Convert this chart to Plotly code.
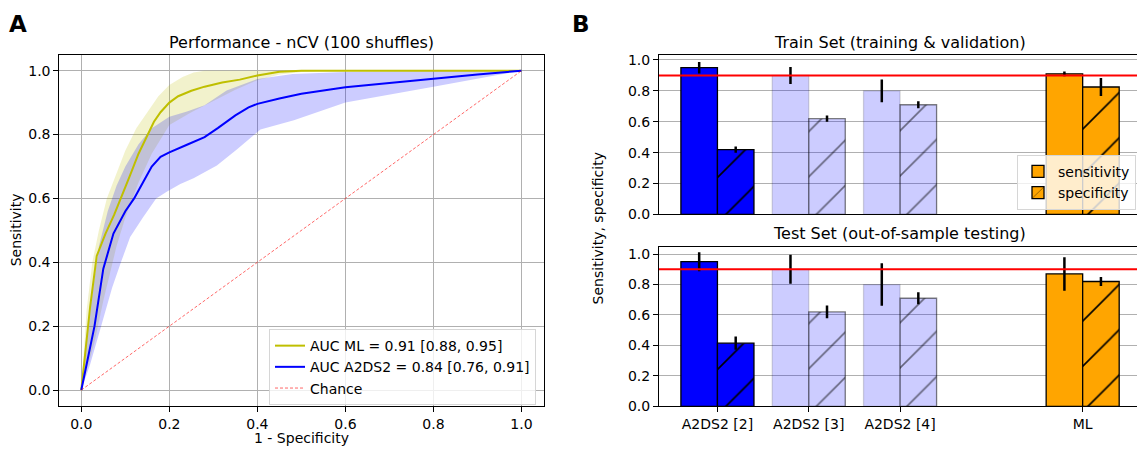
import plotly.graph_objects as go

# ---------------- Panel A data (ROC curves) ----------------
ml_x = [0, 0.01, 0.02, 0.035, 0.055, 0.075, 0.09, 0.11, 0.13, 0.15, 0.165, 0.18, 0.2, 0.22,
        0.25, 0.28, 0.32, 0.36, 0.4, 0.45, 0.5, 1.0]
ml_y = [0, 0.14, 0.26, 0.42, 0.49, 0.55, 0.6, 0.67, 0.74, 0.8, 0.84, 0.87, 0.9, 0.92,
        0.937, 0.95, 0.963, 0.972, 0.985, 0.997, 1.0, 1.0]
ml_up_x = [0, 0.005, 0.012, 0.025, 0.04, 0.058, 0.08, 0.1, 0.125, 0.15, 0.175, 0.2, 0.23, 0.255, 0.28, 1.0]
ml_up_y = [0, 0.12, 0.25, 0.4, 0.5, 0.6, 0.68, 0.75, 0.82, 0.87, 0.92, 0.955, 0.98, 0.994, 1.0, 1.0]
ml_lo_x = [0, 0.03, 0.05, 0.08, 0.1, 0.13, 0.16, 0.2, 0.25, 0.3, 0.35, 0.4, 0.45, 0.5, 0.55, 1.0]
ml_lo_y = [0, 0.15, 0.28, 0.45, 0.54, 0.65, 0.74, 0.83, 0.87, 0.905, 0.94, 0.97, 0.988, 0.996, 1.0, 1.0]

a2_x = [0, 0.015, 0.03, 0.05, 0.073, 0.1, 0.12, 0.14, 0.16, 0.18, 0.2, 0.24, 0.28, 0.31,
        0.35, 0.38, 0.4, 0.45, 0.5, 0.6, 0.7, 0.8, 0.9, 1.0]
a2_y = [0, 0.1, 0.2, 0.38, 0.49, 0.56, 0.6, 0.65, 0.7, 0.73, 0.744, 0.768, 0.792, 0.82,
        0.86, 0.885, 0.896, 0.913, 0.928, 0.948, 0.962, 0.975, 0.988, 1.0]
a2_up_x = [0, 0.01, 0.025, 0.04, 0.06, 0.08, 0.1, 0.13, 0.16, 0.2, 0.24, 0.28, 0.33, 0.4, 0.48, 0.6, 0.8, 1.0]
a2_up_y = [0, 0.15, 0.3, 0.45, 0.56, 0.64, 0.7, 0.77, 0.82, 0.856, 0.872, 0.892, 0.938, 0.974, 0.99, 0.996, 0.999, 1.0]
a2_lo_x = [0, 0.02, 0.045, 0.07, 0.09, 0.111, 0.14, 0.17, 0.195, 0.225, 0.255, 0.308, 0.354, 0.407, 0.483, 0.6, 0.8, 1.0]
a2_lo_y = [0, 0.08, 0.2, 0.32, 0.4, 0.479, 0.54, 0.6, 0.622, 0.645, 0.663, 0.703, 0.754, 0.816, 0.845, 0.9, 0.95, 1.0]

chance_x = [0, 1]
chance_y = [0, 1]

label_ml = "AUC ML = 0.91 [0.88, 0.95]"
label_a2 = "AUC A2DS2 = 0.84 [0.76, 0.91]"
label_chance = "Chance"

# ---------------- Panel B data (bars) ----------------
groups = ["A2DS2 [2]", "A2DS2 [3]", "A2DS2 [4]", "ML"]
gap_label = " "

train_sens = [0.95, 0.90, 0.80, 0.91]
train_sens_err = [0.037, 0.055, 0.073, 0.015]
train_spec = [0.42, 0.62, 0.71, 0.825]
train_spec_err = [0.02, 0.02, 0.022, 0.058]

test_sens = [0.95, 0.90, 0.80, 0.87]
test_sens_err = [0.062, 0.095, 0.14, 0.11]
test_spec = [0.415, 0.62, 0.71, 0.82]
test_spec_err = [0.043, 0.042, 0.04, 0.03]

threshold = 0.9

# ---------------- styles ----------------
W, H = 1137, 455
FONT = "DejaVu Sans"
YEL = "#bfbf00"
BLUE = "#0000ff"
ORANGE = "#ffa500"
LIGHT = "rgba(0,0,255,0.2)"
GRID = "#b0b0b0"

# per-group styles: face, sens edge, spec edge / hatch
group_face = [BLUE, LIGHT, LIGHT, ORANGE]
group_sens_edge = ["black", "rgba(0,0,0,0.15)", "rgba(0,0,0,0.15)", "black"]
group_spec_edge = ["black", "rgba(0,0,0,0.5)", "rgba(0,0,0,0.5)", "black"]


def px(x):
    return x / W


def py(y):
    return 1 - y / H


fig = go.Figure()

# Panel A bands
fig.add_trace(go.Scatter(x=ml_up_x + ml_lo_x[::-1], y=ml_up_y + ml_lo_y[::-1], fill="toself",
                         fillcolor="rgba(191,191,0,0.2)", line=dict(width=0), mode="lines",
                         showlegend=False, hoverinfo="skip", xaxis="x", yaxis="y"))
fig.add_trace(go.Scatter(x=a2_up_x + a2_lo_x[::-1], y=a2_up_y + a2_lo_y[::-1], fill="toself",
                         fillcolor="rgba(0,0,255,0.2)", line=dict(width=0), mode="lines",
                         showlegend=False, hoverinfo="skip", xaxis="x", yaxis="y"))
fig.add_trace(go.Scatter(x=ml_x, y=ml_y, mode="lines", line=dict(color=YEL, width=2),
                         name=label_ml, xaxis="x", yaxis="y", legend="legend"))
fig.add_trace(go.Scatter(x=a2_x, y=a2_y, mode="lines", line=dict(color=BLUE, width=2),
                         name=label_a2, xaxis="x", yaxis="y", legend="legend"))
fig.add_trace(go.Scatter(x=chance_x, y=chance_y, mode="lines",
                         line=dict(color="rgba(255,0,0,0.75)", width=0.8, dash="3px,2px"),
                         name=label_chance, xaxis="x", yaxis="y", legend="legend"))


def err(v):
    return dict(type="data", array=[v], visible=True, color="black", thickness=2.5, width=0)


PAT_SIZE = 32
PAT_SOL = 0.05


def add_bars(xa, ya, sens, sens_err, spec, spec_err, legend_on):
    for i, g in enumerate(groups):
        is_ml = g == "ML"
        fig.add_trace(go.Bar(x=[g], y=[sens[i]], error_y=err(sens_err[i]), offsetgroup="sens",
                             marker=dict(color=group_face[i],
                                         line=dict(color=group_sens_edge[i], width=1.3)),
                             name="sensitivity", showlegend=legend_on and is_ml,
                             legend="legend2", xaxis=xa, yaxis=ya))
        fig.add_trace(go.Bar(x=[g], y=[spec[i]], error_y=err(spec_err[i]), offsetgroup="spec",
                             marker=dict(color=group_face[i],
                                         line=dict(color=group_spec_edge[i], width=1.3),
                                         pattern=dict(shape="/", size=PAT_SIZE, solidity=PAT_SOL,
                                                      fgcolor=group_spec_edge[i],
                                                      bgcolor=group_face[i],
                                                      fillmode="replace")),
                             name="specificity", showlegend=legend_on and is_ml,
                             legend="legend2", xaxis=xa, yaxis=ya))


add_bars("x2", "y2", train_sens, train_sens_err, train_spec, train_spec_err, True)
add_bars("x3", "y3", test_sens, test_sens_err, test_spec, test_spec_err, False)

cat_order = groups[:3] + [gap_label] + groups[3:]

axis_common = dict(showline=True, linecolor="black", linewidth=1, zeroline=False,
                   ticks="outside", ticklen=5, tickcolor="black", tickwidth=1,
                   ticklabelstandoff=0, tickfont=dict(size=14))

A_dom_x = [px(59.3), px(543.5)]
A_dom_y = [py(413), py(53)]
B_dom_x = [px(659), 1.0]
Bt_dom_y = [py(216.7), py(53.3)]
Bb_dom_y = [py(413.3), py(250)]
ticks01 = [0, 0.2, 0.4, 0.6, 0.8, 1.0]

fig.update_layout(
    width=W, height=H,
    margin=dict(l=0, r=0, t=0, b=0),
    paper_bgcolor="white", plot_bgcolor="white",
    font=dict(family=FONT, size=14, color="black"),
    barmode="group", bargap=0.2, bargroupgap=0,
    xaxis=dict(domain=A_dom_x, range=[-0.05, 1.05], tickmode="array",
               tickvals=ticks01, tickformat=".1f",
               showgrid=True, gridcolor=GRID, gridwidth=0.8, mirror=True, anchor="y",
               **axis_common),
    yaxis=dict(domain=A_dom_y, range=[-0.05, 1.05], tickmode="array",
               tickvals=ticks01, tickformat=".1f",
               showgrid=True, gridcolor=GRID, gridwidth=0.8, mirror=True, anchor="x",
               **axis_common),
    xaxis2=dict(domain=B_dom_x, type="category", categoryorder="array", categoryarray=cat_order,
                range=[-0.64, 4.595], showgrid=False, showticklabels=False, anchor="y2",
                showline=True, linecolor="black", linewidth=1, mirror=True, zeroline=False,
                ticks=""),
    yaxis2=dict(domain=Bt_dom_y, range=[0, 1.032], tickmode="array",
                tickvals=ticks01, tickformat=".1f",
                showgrid=True, gridcolor=GRID, gridwidth=0.8, anchor="x2", mirror=False,
                **axis_common),
    xaxis3=dict(domain=B_dom_x, type="category", categoryorder="array", categoryarray=cat_order,
                range=[-0.64, 4.595], showgrid=False, anchor="y3", mirror=True,
                tickmode="array", tickvals=groups, ticktext=groups,
                **axis_common),
    yaxis3=dict(domain=Bb_dom_y, range=[0, 1.047], tickmode="array",
                tickvals=ticks01, tickformat=".1f",
                showgrid=True, gridcolor=GRID, gridwidth=0.8, anchor="x3", mirror=False,
                **axis_common),
    legend=dict(x=px(536), xanchor="right", y=py(412), yanchor="bottom",
                bgcolor="rgba(255,255,255,0.8)", bordercolor="#d6d6d6", borderwidth=1,
                font=dict(size=14), traceorder="normal", tracegroupgap=0),
    legend2=dict(x=px(1136), xanchor="right", y=py(212), yanchor="bottom",
                 bgcolor="rgba(255,255,255,0.8)", bordercolor="#d6d6d6", borderwidth=1,
                 font=dict(size=14), traceorder="normal", tracegroupgap=0),
    showlegend=True,
)

# threshold lines
for xa, ya in (("x2", "y2"), ("x3", "y3")):
    fig.add_shape(type="line", xref=xa + " domain", yref=ya, x0=0, x1=1, y0=threshold, y1=threshold,
                  line=dict(color="red", width=2), layer="above")

ann = [
    dict(text="<b>A</b>", x=px(18), y=py(22), size=23),
    dict(text="<b>B</b>", x=px(581), y=py(22), size=23),
    dict(text="Performance - nCV (100 shuffles)", x=px(301.4), y=py(40), size=16),
    dict(text="Train Set (training & validation)", x=px(900), y=py(40), size=16),
    dict(text="Test Set (out-of-sample testing)", x=px(900), y=py(236), size=16),
]
for a in ann:
    fig.add_annotation(text=a["text"], x=a["x"], y=a["y"], xref="paper", yref="paper",
                       xanchor="center", yanchor="middle", showarrow=False,
                       font=dict(size=a["size"], family=FONT, color="black"))
fig.add_annotation(text="1 - Specificity", x=px(301.4), y=py(455), xref="paper", yref="paper",
                   xanchor="center", yanchor="bottom", showarrow=False, borderpad=0,
                   font=dict(size=14, family=FONT, color="black"))
fig.add_annotation(text="Sensitivity", x=px(16), y=py(233), xref="paper", yref="paper",
                   textangle=-90, showarrow=False, xanchor="center", yanchor="middle",
                   font=dict(size=14, family=FONT, color="black"))
fig.add_annotation(text="Sensitivity, specificity", x=px(598), y=py(231), xref="paper", yref="paper",
                   textangle=-90, showarrow=False, xanchor="center", yanchor="middle",
                   font=dict(size=14, family=FONT, color="black"))

fig.write_html("out.html", config={"displayModeBar": False},
               post_script="document.body.style.margin='0px';")
